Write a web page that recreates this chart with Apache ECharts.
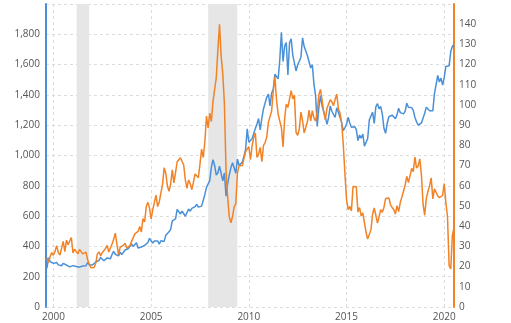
<!DOCTYPE html>
<html>
<head>
<meta charset="utf-8">
<script src="https://cdn.jsdelivr.net/npm/echarts@6/dist/echarts.min.js"></script>
<style>
html,body{margin:0;padding:0;background:#fff;}
#c{width:511px;height:323px;}
</style>
</head>
<body>
<div id="c"></div>
<script>
// Monthly values, first month = Aug 1999, last = Jun 2020
var startYear = 1999;
var startMonth = 8;
var gold = [
  255, 325, 300, 292, 288,
  283, 294, 278, 275, 272, 288, 277, 277, 274, 265, 269, 273,
  265, 267, 258, 263, 268, 271, 266, 273, 293, 279, 276, 277,
  282, 297, 301, 308, 327, 319, 305, 313, 324, 317, 319, 347,
  368, 348, 335, 337, 361, 346, 355, 376, 388, 386, 398, 416,
  400, 396, 424, 389, 393, 396, 391, 407, 416, 426, 453, 436,
  422, 436, 428, 436, 415, 437, 429, 433, 473, 471, 496, 513,
  569, 556, 582, 644, 653, 614, 633, 624, 599, 604, 647, 632,
  651, 664, 662, 677, 659, 651, 666, 672, 743, 790, 784, 834,
  923, 972, 934, 871, 886, 930, 918, 833, 885, 731, 815, 870,
  920, 952, 917, 883, 976, 935, 939, 956, 996, 1040, 1176, 1088,
  1079, 1110, 1116, 1179, 1208, 1244, 1169, 1246, 1307, 1347, 1384, 1406,
  1327, 1411, 1439, 1536, 1537, 1506, 1629, 1814, 1620, 1722, 1746, 1531,
  1744, 1770, 1663, 1651, 1558, 1599, 1622, 1649, 1776, 1719, 1726, 1658,
  1665, 1578, 1598, 1469, 1395, 1192, 1315, 1395, 1327, 1324, 1253, 1205,
  1251, 1327, 1292, 1289, 1251, 1315, 1285, 1286, 1217, 1164, 1183, 1206,
  1252, 1214, 1187, 1180, 1190, 1171, 1098, 1135, 1114, 1142, 1062, 1060,
  1112, 1235, 1237, 1286, 1212, 1321, 1342, 1309, 1323, 1272, 1178, 1146,
  1213, 1256, 1245, 1267, 1266, 1242, 1268, 1312, 1283, 1270, 1275, 1291,
  1345, 1318, 1324, 1316, 1298, 1251, 1223, 1200, 1187, 1215, 1218, 1279,
  1319, 1316, 1295, 1284, 1295, 1409, 1419, 1528, 1485, 1511, 1465, 1515,
  1588, 1586, 1592, 1686, 1720, 1730
];
var oil = [
  24.5, 22.0, 25.0, 26.9, 25.6,
  27.6, 30.4, 26.9, 25.7, 29.0, 32.5, 27.4, 33.1, 30.8, 32.7, 34.4, 26.8,
  28.7, 27.4, 26.3, 28.5, 28.4, 26.3, 26.4, 27.2, 23.4, 21.2, 19.4, 19.8,
  19.5, 21.7, 26.3, 27.3, 25.3, 26.9, 27.0, 29.0, 30.5, 27.2, 26.9, 31.2,
  33.5, 36.6, 31.0, 25.8, 29.6, 30.2, 30.5, 31.6, 29.2, 29.1, 30.4, 32.5,
  33.1, 36.2, 35.8, 37.4, 39.9, 37.1, 43.8, 42.1, 49.6, 51.8, 49.1, 43.5,
  48.2, 51.8, 55.4, 49.7, 52.0, 56.5, 60.6, 68.9, 66.2, 59.8, 57.3, 61.0,
  67.9, 61.4, 66.6, 71.9, 71.3, 73.9, 74.4, 70.3, 62.9, 58.7, 62.9, 61.1,
  58.1, 61.8, 65.9, 65.7, 64.0, 70.7, 78.2, 74.0, 81.7, 94.5, 88.7, 96.0,
  91.8, 101.8, 101.6, 113.5, 127.4, 140.0, 124.1, 115.5, 100.6, 67.8, 54.4, 44.6,
  41.7, 44.8, 49.7, 51.1, 66.3, 69.9, 69.5, 70.0, 70.6, 77.0, 77.3, 79.4,
  72.9, 79.7, 83.8, 86.2, 74.0, 75.6, 79.0, 71.9, 80.0, 81.4, 84.1, 91.4,
  92.2, 97.0, 106.7, 113.9, 102.7, 95.4, 95.7, 88.8, 79.2, 93.2, 100.4, 98.8,
  98.5, 107.1, 103.0, 104.9, 86.5, 85.0, 88.1, 96.5, 92.2, 86.2, 88.9, 91.8,
  97.5, 92.1, 97.2, 93.5, 92.0, 96.6, 105.1, 107.7, 102.3, 96.4, 92.7, 98.4,
  97.5, 102.6, 101.6, 99.7, 102.7, 105.4, 98.2, 96.0, 91.2, 80.5, 66.2, 53.3,
  48.2, 49.8, 47.6, 59.6, 60.3, 59.5, 47.1, 49.2, 45.1, 46.6, 41.7, 37.0,
  33.6, 33.8, 38.3, 45.9, 49.1, 48.3, 41.6, 44.7, 48.2, 46.9, 49.4, 53.7,
  52.8, 54.0, 50.6, 49.3, 48.3, 46.0, 50.2, 47.2, 51.7, 54.4, 57.4, 60.4,
  64.7, 61.6, 64.9, 68.6, 67.0, 74.2, 68.8, 69.8, 73.3, 65.3, 50.9, 45.4,
  53.8, 57.2, 60.1, 63.9, 53.5, 58.5, 58.6, 55.1, 54.1, 54.2, 55.2, 61.1,
  51.6, 44.8, 20.5, 18.8, 35.5, 39.3
];
var yearTicks = [2000, 2005, 2010, 2015, 2020];
var goldTicks = [0, 200, 400, 600, 800, 1000, 1200, 1400, 1600, 1800];
var oilTicks = [0, 10, 20, 30, 40, 50, 60, 70, 80, 90, 100, 110, 120, 130, 140];
// recession periods as decimal years (Mar 2001 - Nov 2001, Dec 2007 - Jun 2009)
var recessions = [[2001.19, 2001.83], [2007.92, 2009.41]];

function toPoints(arr) {
  return arr.map(function (v, i) {
    // month-end date as decimal year
    return [startYear + (startMonth - 1 + i + 1) / 12, v];
  });
}

var blue = '#4a90d9';
var orange = '#f28226';
var labelStyle = { color: '#555', fontSize: 10, fontFamily: 'Open Sans' };

var chart = echarts.init(document.getElementById('c'), null, { renderer: 'canvas' });
chart.setOption({
  animation: false,
  grid: { left: 46, right: 57, top: 4, bottom: 16, containLabel: false },
  xAxis: {
    type: 'value',
    min: 1999.62,
    max: 2020.5,
    axisLine: { show: false },
    axisTick: { show: false, customValues: yearTicks },
    axisLabel: Object.assign({ customValues: yearTicks, margin: 5, formatter: function (v) { return String(Math.round(v)); } }, labelStyle),
    splitLine: { show: true, lineStyle: { color: '#ddd', type: [3, 3] } }
  },
  yAxis: [
    {
      type: 'value', min: 0, max: 2000, interval: 200, position: 'left',
      axisLine: { show: true, lineStyle: { color: blue, width: 2 } },
      axisTick: { show: false },
      axisLabel: Object.assign({ showMaxLabel: false, margin: 6, formatter: function (v) { return v.toLocaleString('en-US'); } }, labelStyle),
      splitLine: { show: true, lineStyle: { color: '#ddd', type: [3, 3] } }
    },
    {
      type: 'value', min: 0, max: 150, interval: 10, position: 'right',
      axisLine: { show: true, lineStyle: { color: orange, width: 2 } },
      axisTick: { show: false },
      axisLabel: Object.assign({ showMaxLabel: false, margin: 5 }, labelStyle),
      splitLine: { show: false }
    }
  ],
  series: [
    {
      type: 'line', data: [], xAxisIndex: 0, yAxisIndex: 0, z: 1, silent: true,
      markArea: {
        silent: true,
        itemStyle: { color: '#e6e6e6' },
        data: recessions.map(function (r) { return [{ xAxis: r[0] }, { xAxis: r[1] }]; })
      }
    },
    {
      name: 'Gold', type: 'line', yAxisIndex: 0, data: toPoints(gold),
      showSymbol: false, lineStyle: { color: blue, width: 1.5 }, itemStyle: { color: blue }, z: 3
    },
    {
      name: 'Oil', type: 'line', yAxisIndex: 1, data: toPoints(oil),
      showSymbol: false, lineStyle: { color: orange, width: 1.5 }, itemStyle: { color: orange }, z: 4
    }
  ]
});
</script>
</body>
</html>
